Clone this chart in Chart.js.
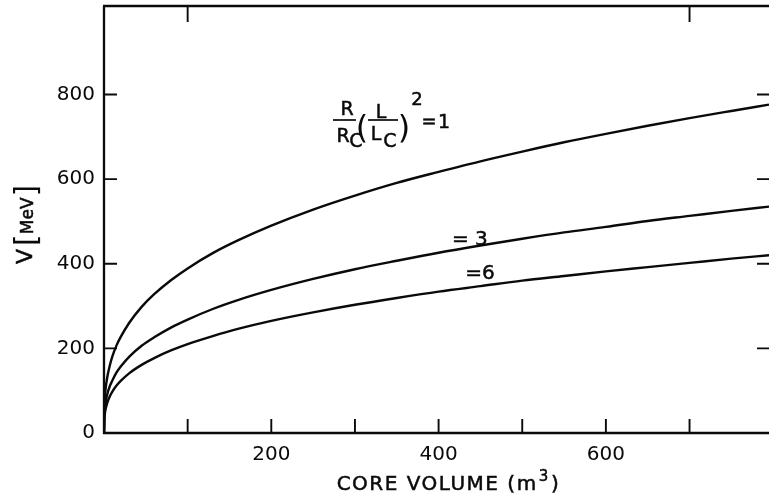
<!DOCTYPE html>
<html>
<head>
<meta charset="utf-8">
<script src="https://cdn.jsdelivr.net/npm/chart.js@4/dist/chart.umd.min.js"></script>
<style>
  html, body { margin: 0; padding: 0; background: #fff; }
  canvas { display: block; }
</style>
</head>
<body>
<canvas id="c" width="769" height="494"></canvas>
<script>
// ---- data ----
const volume   = [0, 0.5, 1, 2, 4, 7, 10, 15, 20, 30, 45, 60, 80, 100, 130, 160, 200, 250, 300, 350, 400, 450, 500, 550, 600, 650, 700, 750, 795];
const vRatio1  = [0, 67, 84, 106, 133, 160, 181, 207, 227, 260, 298, 328, 361, 389, 425, 455, 490, 528, 561, 591, 617, 642, 665, 687, 707, 726, 744, 761, 776];
const vRatio3  = [0, 46, 58, 73, 92, 111, 124, 143, 157, 180, 206, 226, 249, 268, 293, 314, 338, 364, 387, 407, 426, 443, 459, 474, 487, 501, 513, 525, 535];
const vRatio6  = [0, 36, 45, 57, 72, 87, 98, 112, 123, 141, 161, 177, 195, 210, 229, 246, 265, 285, 303, 319, 334, 347, 360, 371, 382, 392, 402, 412, 420];
const xTickLabels  = [200, 400, 600];
const xMinorTicks  = [100, 200, 300, 400, 500, 600, 700];
const xTopTicks    = [100, 700];
const yTickLabels  = [0, 200, 400, 600, 800];
const yMarkTicks   = [200, 400, 600, 800];
const curveLabels  = ['= 3', '=6'];
const curveLabelAt = [[416, 445], [432, 364]];
const xTitle = 'CORE VOLUME (m\u00B3)';

const INK = '#0a0a0a';
const FONT = '"DejaVu Sans", "Liberation Sans", sans-serif';

function pts(ys) { return volume.map((x, i) => ({ x: x, y: ys[i] })); }
function lineDs(ys) {
  return { data: pts(ys), borderColor: INK, borderWidth: 2.4, pointRadius: 0,
           fill: false, cubicInterpolationMode: 'monotone' };
}

function txt(ctx, s, x, y, size) {
  ctx.font = size + 'px ' + FONT;
  ctx.fillText(s, x, y);
  ctx.lineWidth = 0.5;
  ctx.strokeText(s, x, y);
}

const framePlugin = {
  id: 'frame',
  afterDraw(chart) {
    const ctx = chart.ctx, a = chart.chartArea;
    const xs = chart.scales.x, ys = chart.scales.y;
    ctx.save();
    ctx.strokeStyle = INK; ctx.fillStyle = INK; ctx.lineCap = 'butt';
    // frame: left, bottom, top
    ctx.lineWidth = 2.3;
    ctx.beginPath();
    ctx.moveTo(a.left, a.top); ctx.lineTo(a.left, a.bottom + 1);
    ctx.moveTo(a.left - 1, a.bottom); ctx.lineTo(a.right, a.bottom);
    ctx.moveTo(a.left - 1, a.top); ctx.lineTo(a.right, a.top);
    ctx.stroke();
    // ticks
    ctx.lineWidth = 1.9;
    ctx.beginPath();
    xMinorTicks.forEach(v => { const p = xs.getPixelForValue(v); ctx.moveTo(p, a.bottom); ctx.lineTo(p, a.bottom - 14); });
    xTopTicks.forEach(v => { const p = xs.getPixelForValue(v); ctx.moveTo(p, a.top); ctx.lineTo(p, a.top + 16); });
    yMarkTicks.forEach(v => { const p = ys.getPixelForValue(v); ctx.moveTo(a.left, p); ctx.lineTo(a.left + 13, p);
                              ctx.moveTo(a.right, p); ctx.lineTo(a.right - 12, p); });
    ctx.stroke();

    // x title
    ctx.textBaseline = 'alphabetic'; ctx.textAlign = 'left';
    try { ctx.letterSpacing = '1.5px'; } catch (e) {}
    const main = 'CORE VOLUME (m';
    ctx.font = '20px ' + FONT;
    const wMain = ctx.measureText(main).width;
    ctx.font = '14px ' + FONT;
    const wSup = ctx.measureText('3').width;
    ctx.font = '20px ' + FONT;
    const wEnd = ctx.measureText(')').width;
    let tx = 448.5 - (wMain + wSup + wEnd + 3) / 2;
    txt(ctx, main, tx, 490, 20); tx += wMain + 1;
    txt(ctx, '3', tx, 481, 15); tx += wSup + 2;
    txt(ctx, ')', tx, 490, 20);
    try { ctx.letterSpacing = '0px'; } catch (e) {}

    // y title (rotated)
    ctx.save();
    ctx.translate(32, 264);
    ctx.rotate(-Math.PI / 2);
    let ry = 0;
    txt(ctx, 'V', 0, 0, 22); ctx.font = '22px ' + FONT; ry += ctx.measureText('V').width + 3;
    ctx.font = '30px ' + FONT; ctx.fillText('[', ry, 4); ry += ctx.measureText('[').width;
    txt(ctx, 'MeV', ry, 1, 17); ctx.font = '17px ' + FONT; ry += ctx.measureText('MeV').width + 1;
    ctx.font = '30px ' + FONT; ctx.fillText(']', ry, 4);
    ctx.restore();

    // curve labels
    curveLabels.forEach((t, i) => {
      const px = xs.getPixelForValue(curveLabelAt[i][0]);
      const py = ys.getPixelForValue(curveLabelAt[i][1]);
      txt(ctx, t, px, py, 20);
    });

    // formula R/Rc (L/Lc)^2 = 1
    ctx.textAlign = 'center';
    txt(ctx, 'R', 347, 115, 19);
    ctx.lineWidth = 1.7;
    ctx.beginPath(); ctx.moveTo(333, 120); ctx.lineTo(356, 120); ctx.stroke();
    txt(ctx, 'R', 343, 142, 19);
    txt(ctx, 'C', 356, 147, 19);
    ctx.font = '32px ' + FONT;
    ctx.fillText('(', 362, 138);
    txt(ctx, 'L', 381, 118, 19);
    ctx.lineWidth = 1.7;
    ctx.beginPath(); ctx.moveTo(368, 120); ctx.lineTo(398, 120); ctx.stroke();
    txt(ctx, 'L', 376, 140, 19);
    txt(ctx, 'C', 390, 147, 19);
    ctx.font = '32px ' + FONT;
    ctx.fillText(')', 404, 138);
    txt(ctx, '2', 417, 105, 18);
    txt(ctx, '=', 429, 127, 18);
    txt(ctx, '1', 444, 128, 19);
    ctx.restore();
  }
};

new Chart(document.getElementById('c'), {
  type: 'line',
  data: { datasets: [lineDs(vRatio1), lineDs(vRatio3), lineDs(vRatio6)] },
  options: {
    responsive: false,
    devicePixelRatio: 1,
    animation: false,
    events: [],
    layout: { padding: { top: 6, right: 0, left: 0, bottom: 0 } },
    plugins: { legend: { display: false }, tooltip: { enabled: false }, title: { display: false } },
    scales: {
      x: {
        type: 'linear', min: 0, max: 795,
        grid: { display: false, drawTicks: false }, border: { display: false },
        afterFit(s) { s.height = 61; s.paddingLeft = 0; s.paddingRight = 0; },
        afterBuildTicks(s) { s.ticks = xTickLabels.map(v => ({ value: v })); },
        ticks: { color: INK, padding: 10, maxRotation: 0, autoSkip: false,
                 font: { family: FONT, size: 20 } }
      },
      y: {
        type: 'linear', min: 0, max: 1009,
        grid: { display: false, drawTicks: false }, border: { display: false },
        afterFit(s) { s.width = 104; s.paddingTop = 0; s.paddingBottom = 0; },
        afterBuildTicks(s) { s.ticks = yTickLabels.map(v => ({ value: v })); },
        ticks: { color: INK, padding: 9, autoSkip: false,
                 font: { family: FONT, size: 20 } }
      }
    }
  },
  plugins: [framePlugin]
});
</script>
</body>
</html>
